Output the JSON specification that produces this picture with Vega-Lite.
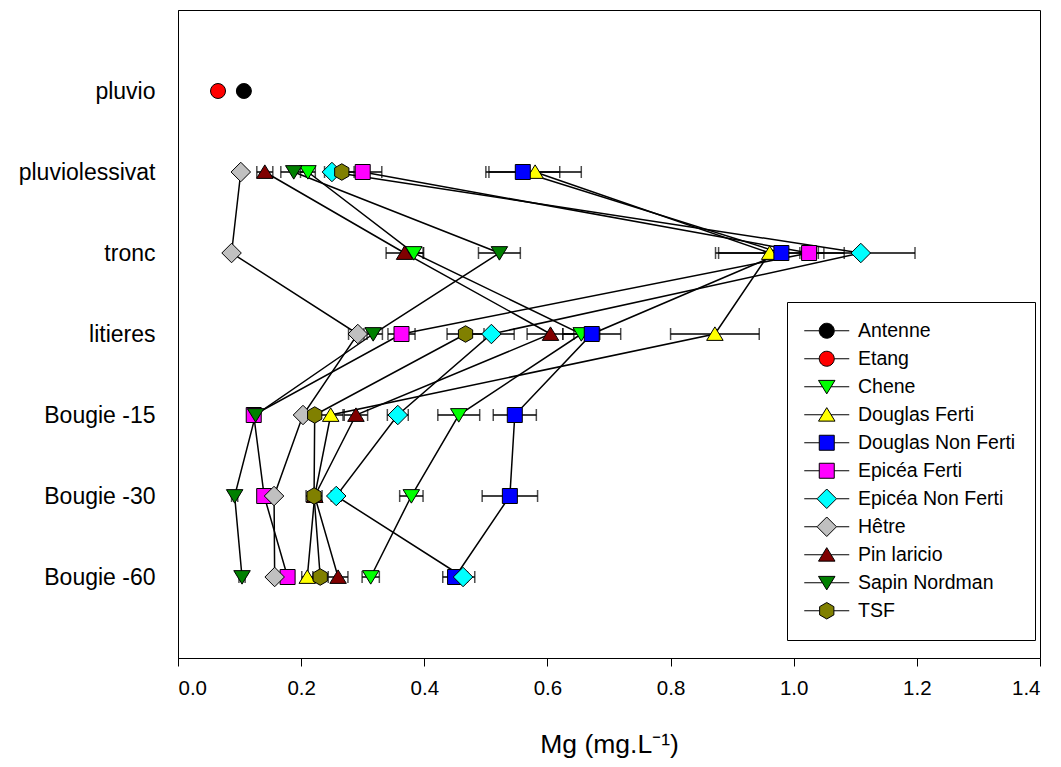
{
  "$schema": "https://vega.github.io/schema/vega-lite/v6.json",
  "width": 862,
  "height": 648,
  "autosize": {"type": "none"},
  "padding": {"left": 178, "top": 10, "right": 21, "bottom": 109},
  "background": "white",
  "config": {
    "font": "Liberation Sans",
    "view": {"stroke": "black", "strokeWidth": 1},
    "axis": {"domainColor": "black", "tickColor": "black", "labelColor": "black", "titleColor": "black", "grid": false, "labelFont": "Liberation Sans", "titleFont": "Liberation Sans"},
    "legend": {
      "orient": "none", "legendX": 609, "legendY": 292, "padding": 19,
      "strokeColor": "black", "strokeWidth": 1, "fillColor": "white",
      "symbolSize": 225, "symbolOffset": 11, "labelOffset": 21.5, "gridAlign": "all",
      "labelFontSize": 19.5, "labelFont": "Liberation Sans", "labelColor": "black",
      "rowPadding": 4, "symbolOpacity": 1, "symbolStrokeColor": "black", "symbolStrokeWidth": 1
    }
  },
  "data": {"values": [
    {"series": "Antenne", "site": "pluvio", "idx": 1, "mg": 0.107, "err": 0},
    {"series": "Etang", "site": "pluvio", "idx": 1, "mg": 0.065, "err": 0},
    {"series": "Chene", "site": "pluviolessivat", "idx": 2, "mg": 0.211, "err": 0.012},
    {"series": "Chene", "site": "tronc", "idx": 3, "mg": 0.383, "err": 0.016},
    {"series": "Chene", "site": "litieres", "idx": 4, "mg": 0.655, "err": 0.03},
    {"series": "Chene", "site": "Bougie -15", "idx": 5, "mg": 0.456, "err": 0.034},
    {"series": "Chene", "site": "Bougie -30", "idx": 6, "mg": 0.379, "err": 0.019},
    {"series": "Chene", "site": "Bougie -60", "idx": 7, "mg": 0.313, "err": 0.014},
    {"series": "Douglas Ferti", "site": "pluviolessivat", "idx": 2, "mg": 0.58, "err": 0.075},
    {"series": "Douglas Ferti", "site": "tronc", "idx": 3, "mg": 0.961, "err": 0.088},
    {"series": "Douglas Ferti", "site": "litieres", "idx": 4, "mg": 0.872, "err": 0.072},
    {"series": "Douglas Ferti", "site": "Bougie -15", "idx": 5, "mg": 0.248, "err": 0.02},
    {"series": "Douglas Ferti", "site": "Bougie -30", "idx": 6, "mg": 0.222, "err": 0.005},
    {"series": "Douglas Ferti", "site": "Bougie -60", "idx": 7, "mg": 0.21, "err": 0.009},
    {"series": "Douglas Non Ferti", "site": "pluviolessivat", "idx": 2, "mg": 0.56, "err": 0.06},
    {"series": "Douglas Non Ferti", "site": "tronc", "idx": 3, "mg": 0.98, "err": 0.102},
    {"series": "Douglas Non Ferti", "site": "litieres", "idx": 4, "mg": 0.672, "err": 0.047},
    {"series": "Douglas Non Ferti", "site": "Bougie -15", "idx": 5, "mg": 0.547, "err": 0.035},
    {"series": "Douglas Non Ferti", "site": "Bougie -30", "idx": 6, "mg": 0.539, "err": 0.045},
    {"series": "Douglas Non Ferti", "site": "Bougie -60", "idx": 7, "mg": 0.45, "err": 0.02},
    {"series": "Epicéa Ferti", "site": "pluviolessivat", "idx": 2, "mg": 0.3, "err": 0.031},
    {"series": "Epicéa Ferti", "site": "tronc", "idx": 3, "mg": 1.025, "err": 0.015},
    {"series": "Epicéa Ferti", "site": "litieres", "idx": 4, "mg": 0.363, "err": 0.022},
    {"series": "Epicéa Ferti", "site": "Bougie -15", "idx": 5, "mg": 0.123, "err": 0.005},
    {"series": "Epicéa Ferti", "site": "Bougie -30", "idx": 6, "mg": 0.14, "err": 0.005},
    {"series": "Epicéa Ferti", "site": "Bougie -60", "idx": 7, "mg": 0.178, "err": 0.005},
    {"series": "Epicéa Non Ferti", "site": "pluviolessivat", "idx": 2, "mg": 0.25, "err": 0.012},
    {"series": "Epicéa Non Ferti", "site": "tronc", "idx": 3, "mg": 1.109, "err": 0.088},
    {"series": "Epicéa Non Ferti", "site": "litieres", "idx": 4, "mg": 0.509, "err": 0.037},
    {"series": "Epicéa Non Ferti", "site": "Bougie -15", "idx": 5, "mg": 0.357, "err": 0.017},
    {"series": "Epicéa Non Ferti", "site": "Bougie -30", "idx": 6, "mg": 0.257, "err": 0.008},
    {"series": "Epicéa Non Ferti", "site": "Bougie -60", "idx": 7, "mg": 0.463, "err": 0.019},
    {"series": "Hêtre", "site": "pluviolessivat", "idx": 2, "mg": 0.102, "err": 0.005},
    {"series": "Hêtre", "site": "tronc", "idx": 3, "mg": 0.087, "err": 0.005},
    {"series": "Hêtre", "site": "litieres", "idx": 4, "mg": 0.292, "err": 0.015},
    {"series": "Hêtre", "site": "Bougie -15", "idx": 5, "mg": 0.203, "err": 0.005},
    {"series": "Hêtre", "site": "Bougie -30", "idx": 6, "mg": 0.156, "err": 0.005},
    {"series": "Hêtre", "site": "Bougie -60", "idx": 7, "mg": 0.157, "err": 0.005},
    {"series": "Pin laricio", "site": "pluviolessivat", "idx": 2, "mg": 0.141, "err": 0.013},
    {"series": "Pin laricio", "site": "tronc", "idx": 3, "mg": 0.368, "err": 0.03},
    {"series": "Pin laricio", "site": "litieres", "idx": 4, "mg": 0.605, "err": 0.038},
    {"series": "Pin laricio", "site": "Bougie -15", "idx": 5, "mg": 0.289, "err": 0.019},
    {"series": "Pin laricio", "site": "Bougie -30", "idx": 6, "mg": 0.222, "err": 0.005},
    {"series": "Pin laricio", "site": "Bougie -60", "idx": 7, "mg": 0.26, "err": 0.016},
    {"series": "Sapin Nordman", "site": "pluviolessivat", "idx": 2, "mg": 0.188, "err": 0.021},
    {"series": "Sapin Nordman", "site": "tronc", "idx": 3, "mg": 0.522, "err": 0.034},
    {"series": "Sapin Nordman", "site": "litieres", "idx": 4, "mg": 0.317, "err": 0.015},
    {"series": "Sapin Nordman", "site": "Bougie -15", "idx": 5, "mg": 0.126, "err": 0.005},
    {"series": "Sapin Nordman", "site": "Bougie -30", "idx": 6, "mg": 0.092, "err": 0.005},
    {"series": "Sapin Nordman", "site": "Bougie -60", "idx": 7, "mg": 0.104, "err": 0.005},
    {"series": "TSF", "site": "pluviolessivat", "idx": 2, "mg": 0.266, "err": 0.02},
    {"series": "TSF", "site": "tronc", "idx": 3, "mg": null, "err": null},
    {"series": "TSF", "site": "litieres", "idx": 4, "mg": 0.467, "err": 0.03},
    {"series": "TSF", "site": "Bougie -15", "idx": 5, "mg": 0.222, "err": 0.005},
    {"series": "TSF", "site": "Bougie -30", "idx": 6, "mg": 0.221, "err": 0.013},
    {"series": "TSF", "site": "Bougie -60", "idx": 7, "mg": 0.231, "err": 0.005}
  ]},
  "encoding": {
    "x": {"field": "mg", "type": "quantitative",
      "scale": {"domain": [0, 1.4], "nice": false, "zero": false},
      "axis": {"values": [0, 0.2, 0.4, 0.6, 0.8, 1.0, 1.2, 1.4], "format": ".1f", "tickSize": 8, "labelFontSize": 20.5, "labelPadding": 12, "title": "Mg (mg.L⁻¹)", "titleFontSize": 26.5, "titleFontWeight": "normal", "titlePadding": 33}},
    "y": {"field": "site", "type": "ordinal",
      "scale": {"type": "point", "padding": 1, "domain": ["pluvio", "pluviolessivat", "tronc", "litieres", "Bougie -15", "Bougie -30", "Bougie -60"]},
      "axis": {"title": null, "ticks": false, "tickSize": 0, "labelPadding": 23, "labelFontSize": 23}}
  },
  "layer": [
    {
      "mark": {"type": "point", "filled": true, "opacity": 0, "stroke": "black", "strokeWidth": 1, "size": 225},
      "encoding": {
        "color": {"field": "series", "type": "nominal",
          "legend": {"title": null, "encode": {"symbols": {"update": {"stroke": {"value": "black"}, "strokeWidth": {"value": 1}, "opacity": {"value": 1}}}}},
          "scale": {"domain": ["Antenne", "Etang", "Chene", "Douglas Ferti", "Douglas Non Ferti", "Epicéa Ferti", "Epicéa Non Ferti", "Hêtre", "Pin laricio", "Sapin Nordman", "TSF"],
            "range": ["#000000", "#FF0000", "#00FF00", "#FFFF00", "#0000FF", "#FF00FF", "#00FFFF", "#C0C0C0", "#800000", "#008000", "#808000"]}},
        "shape": {"field": "series", "type": "nominal",
          "legend": {"title": null, "encode": {"symbols": {"update": {"stroke": {"value": "black"}, "strokeWidth": {"value": 1}, "opacity": {"value": 1}}}}},
          "scale": {"domain": ["Antenne", "Etang", "Chene", "Douglas Ferti", "Douglas Non Ferti", "Epicéa Ferti", "Epicéa Non Ferti", "Hêtre", "Pin laricio", "Sapin Nordman", "TSF"],
            "range": [
              "M-3,0L-1,0M1,0L3,0M1,0A1,1,0,1,1,-1,0A1,1,0,1,1,1,0Z",
              "M-3,0L-1,0M1,0L3,0M1,0A1,1,0,1,1,-1,0A1,1,0,1,1,1,0Z",
              "M-3,0L-0.58,0M0.58,0L3,0M-1.1,-0.85L1.1,-0.85L0,0.95Z",
              "M-3,0L-0.58,0M0.58,0L3,0M0,-0.95L1.1,0.85L-1.1,0.85Z",
              "M-3,0L-1,0M1,0L3,0M-1,-1L1,-1L1,1L-1,1Z",
              "M-3,0L-1,0M1,0L3,0M-1,-1L1,-1L1,1L-1,1Z",
              "M-3,0L-1.3,0M1.3,0L3,0M0,-1.3L1.3,0L0,1.3L-1.3,0Z",
              "M-3,0L-1.3,0M1.3,0L3,0M0,-1.3L1.3,0L0,1.3L-1.3,0Z",
              "M-3,0L-0.58,0M0.58,0L3,0M0,-0.95L1.1,0.85L-1.1,0.85Z",
              "M-3,0L-0.58,0M0.58,0L3,0M-1.1,-0.85L1.1,-0.85L0,0.95Z",
              "M-3,0L-0.95,0M0.95,0L3,0M0,-1.1L0.95,-0.55L0.95,0.55L0,1.1L-0.95,0.55L-0.95,-0.55Z"
            ]}}
      }
    },
    {
      "mark": {"type": "line", "color": "black", "strokeWidth": 1.5, "invalid": "break-paths-filter-domains"},
      "encoding": {"detail": {"field": "series"}, "order": {"field": "idx", "type": "quantitative"}}
    },
    {
      "transform": [{"filter": "datum.err > 0"}],
      "mark": {"type": "errorbar", "color": "black", "ticks": {"size": 12, "thickness": 1.5}, "rule": {"strokeWidth": 1.5}},
      "encoding": {"xError": {"field": "err"}}
    },
    {
      "mark": {"type": "point", "filled": true, "opacity": 1, "stroke": "black", "strokeWidth": 1, "size": 225},
      "encoding": {
        "color": {"field": "series", "type": "nominal", "legend": null,
          "scale": {"domain": ["Antenne", "Etang", "Chene", "Douglas Ferti", "Douglas Non Ferti", "Epicéa Ferti", "Epicéa Non Ferti", "Hêtre", "Pin laricio", "Sapin Nordman", "TSF"],
            "range": ["#000000", "#FF0000", "#00FF00", "#FFFF00", "#0000FF", "#FF00FF", "#00FFFF", "#C0C0C0", "#800000", "#008000", "#808000"]}},
        "shape": {"field": "series", "type": "nominal", "legend": null,
          "scale": {"domain": ["Antenne", "Etang", "Chene", "Douglas Ferti", "Douglas Non Ferti", "Epicéa Ferti", "Epicéa Non Ferti", "Hêtre", "Pin laricio", "Sapin Nordman", "TSF"],
            "range": ["circle", "circle", "M-1.1,-0.85L1.1,-0.85L0,0.95Z", "M0,-0.95L1.1,0.85L-1.1,0.85Z", "square", "square", "M0,-1.3L1.3,0L0,1.3L-1.3,0Z", "M0,-1.3L1.3,0L0,1.3L-1.3,0Z", "M0,-0.95L1.1,0.85L-1.1,0.85Z", "M-1.1,-0.85L1.1,-0.85L0,0.95Z", "M0,-1.1L0.95,-0.55L0.95,0.55L0,1.1L-0.95,0.55L-0.95,-0.55Z"]}}
      }
    }
  ],
  "resolve": {"scale": {"color": "independent", "shape": "independent"}}
}
